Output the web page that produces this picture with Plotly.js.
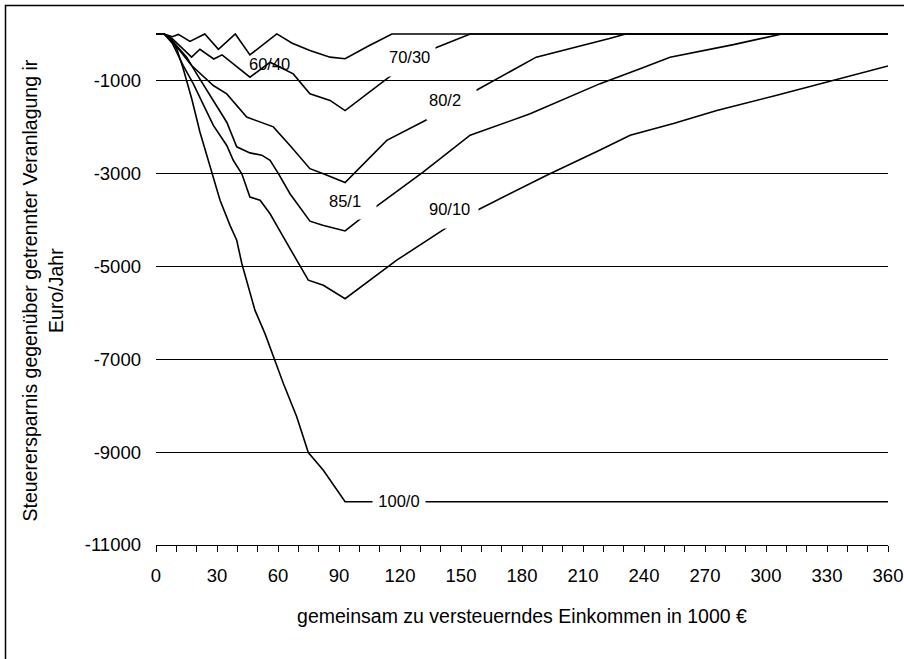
<!DOCTYPE html>
<html>
<head>
<meta charset="utf-8">
<script src="https://cdn.plot.ly/plotly-3.0.1.min.js"></script>
<style>
  html, body { margin:0; padding:0; background:#fff; }
  #chart { width:904px; height:659px; }
</style>
</head>
<body>
<div id="chart"></div>
<script>
// Steuerersparnis (Splitting) je Einkommensaufteilung, x in 1000 €, y in Euro/Jahr
const x60 = [0, 4, 8, 11, 16.7, 24, 30.7, 39, 46.2, 59.4, 67, 75.7, 85.6, 93, 104, 116, 360];
const y60 = [0, 0, -60, -10, -160, 0, -330, 0, -450, 0, -200, -355, -500, -535, -270, 0, 0];

const x70 = [0, 4, 8, 13, 17.5, 21.6, 28.4, 32.5, 46.2, 56.1, 67.5, 75.7, 85.6, 93, 116.7, 136.4, 154.5, 360];
const y70 = [0, 0, -100, -300, -500, -330, -540, -450, -930, -610, -860, -1290, -1430, -1650, -860, -320, 0, 0];

const x80 = [0, 4, 8, 13.4, 17.5, 28.2, 34.8, 44.6, 57.7, 65.9, 75.7, 82.3, 93, 113.5, 134.8, 156, 187, 223, 231, 360];
const y80 = [0, 0, -150, -460, -680, -1110, -1290, -1790, -2000, -2400, -2900, -3010, -3200, -2290, -1810, -1250, -500, -100, 0, 0];

const x85 = [0, 4, 8, 15.1, 20, 28.2, 34.8, 39.7, 46.2, 52, 56.1, 60.2, 65.9, 75.7, 82, 93, 102, 106.9, 131.5, 154.5, 184, 218.4, 238.1, 252.8, 284, 307.8, 360];
const y85 = [0, 0, -150, -500, -860, -1430, -1900, -2430, -2560, -2610, -2720, -3006, -3440, -4030, -4120, -4240, -3940, -3760, -2970, -2180, -1720, -1070, -750, -500, -230, 0, 0];

const x90 = [0, 4, 8, 13.4, 18.3, 23.2, 28.2, 34.8, 38, 42.2, 46.2, 51.2, 56.1, 62.6, 70.8, 74.9, 82.3, 93, 118.4, 144.6, 157.7, 192.2, 218.4, 233.2, 254.5, 275.8, 305.3, 333.2, 360];
const y90 = [0, 0, -200, -680, -1070, -1500, -1970, -2400, -2720, -3010, -3510, -3580, -3870, -4370, -4980, -5300, -5410, -5700, -4870, -4120, -3800, -3040, -2500, -2180, -1930, -1650, -1320, -1000, -690];

const x100 = [0, 4, 7, 10.2, 13.4, 17.6, 21.6, 25.7, 27.4, 31.5, 36.4, 39.7, 42.2, 45.4, 48.7, 53.6, 58.5, 62.6, 69.2, 74.9, 82.3, 89.7, 93, 360];
const y100 = [0, 0, -100, -320, -750, -1400, -2110, -2720, -3010, -3580, -4120, -4440, -4940, -5450, -5950, -6450, -7020, -7520, -8240, -9010, -9390, -9850, -10070, -10070];

const seriesX = [x60, x70, x80, x85, x90, x100];
const seriesY = [y60, y70, y80, y85, y90, y100];
const seriesNames = ['60/40', '70/30', '80/20', '85/15', '90/10', '100/0'];

const yTickVals = [-11000, -9000, -7000, -5000, -3000, -1000];
const yTickText = ['-11000', '-9000', '-7000', '-5000', '-3000', '-1000'];

const FONT = 'Liberation Sans, Arial, sans-serif';

const traces = seriesX.map((xs, i) => ({
  type:'scatter', mode:'lines', x:xs, y:seriesY[i], name:seriesNames[i],
  line:{color:'#000', width:1.6}, hoverinfo:'skip'
}));

// Kurvenbeschriftungen (weiße Box unterbricht die Linie wie im Original)
function label(text, x, y, opts){
  return Object.assign({
    text, x, y, xref:'x', yref:'y', showarrow:false,
    font:{family:FONT, size:16.5, color:'#000'},
    xanchor:'left', yanchor:'top', align:'left', valign:'top', borderpad:2
  }, opts||{});
}

const annotations = [
  label('60/40', 45.3, -440, {borderpad:0}),
  label('70/30', 113.1, -230, {bgcolor:'#fff', width:44, height:26}),
  label('80/2', 132.8, -1170, {bgcolor:'#fff', width:45, height:27}),
  label('85/1', 83.6, -3340, {bgcolor:'#fff', width:45, height:25}),
  label('90/10', 132.8, -3510, {bgcolor:'#fff', width:47, height:26}),
  label('100/0', 106.2, -9800, {bgcolor:'#fff', width:48, height:15, align:'center', valign:'top'}),
  {
    text:'Steuerersparnis gegenüber getrennter Veranlagung ir<br>Euro/Jahr',
    xref:'paper', yref:'paper', x:-0.1544, y:0.497, xanchor:'center', yanchor:'middle',
    textangle:-90, showarrow:false, align:'center',
    font:{family:FONT, size:19.5, color:'#000'}
  }
];

const layout = {
  width:904, height:659,
  margin:{l:156, r:16, t:33, b:114},
  paper_bgcolor:'#fff', plot_bgcolor:'#fff',
  showlegend:false,
  font:{family:FONT, color:'#000'},
  xaxis:{
    range:[0, 360], tick0:0, dtick:30,
    ticks:'outside', ticklen:6, tickwidth:1, tickcolor:'#000',
    minor:{dtick:10, ticks:'outside', ticklen:6, tickwidth:1, tickcolor:'#000', showgrid:false},
    showline:true, linecolor:'#000', linewidth:1,
    showgrid:false, zeroline:false,
    ticklabelstandoff:8,
    tickfont:{family:FONT, size:18.5, color:'#000'},
    title:{text:'gemeinsam zu versteuerndes Einkommen in 1000 €', font:{family:FONT, size:19.5, color:'#000'}, standoff:24}
  },
  yaxis:{
    range:[-11000, 20], tickmode:'array', tickvals:yTickVals, ticktext:yTickText,
    ticks:'', showline:false, zeroline:false,
    showgrid:true, gridcolor:'#000', gridwidth:1,
    ticklabelstandoff:14,
    tickfont:{family:FONT, size:18.5, color:'#000'}
  },
  annotations,
  shapes:[{
    type:'rect', xref:'paper', yref:'paper',
    x0:-0.2056, x1:1.05, y0:-0.3, y1:1.0537,
    line:{color:'#000', width:1.5}, fillcolor:'rgba(0,0,0,0)'
  }]
};

Plotly.newPlot('chart', traces, layout, {displayModeBar:false, staticPlot:true});
</script>
</body>
</html>
